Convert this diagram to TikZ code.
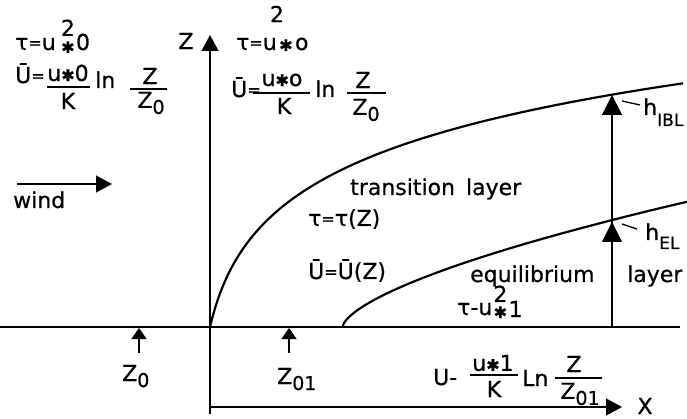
\documentclass[tikz,border=0pt]{standalone}
\usepackage{fontspec}
\setmainfont{DejaVu Sans}[FakeBold=0.6]
\usetikzlibrary{arrows.meta}
\newcommand\lowsub[1]{\raisebox{-6pt}{\fontsize{19}{19}\selectfont #1}}
\newcommand\st{{\fontsize{16}{16}\selectfont ✱}}
\newcommand\eq{\raisebox{1.5pt}{\fontsize{16}{16}\selectfont =}}
\begin{document}
\begin{tikzpicture}[x=1pt,y=-1pt,
  txt/.style={inner sep=0pt, font=\fontsize{22}{24}\selectfont},
  sm/.style={inner sep=0pt, font=\fontsize{17}{19}\selectfont},
  stf/.style={inner sep=0pt, font=\fontsize{16}{16}\selectfont},
  ax/.style={line width=1.3pt},
  crv/.style={line width=2.2pt},
  bar/.style={line width=1.3pt},
  midtip/.style={-{Triangle[length=16pt,width=17pt]}},
  bigtip/.style={-{Triangle[length=20pt,width=20pt]}},
  smalltip/.style={-{Triangle[length=11pt,width=15pt]}}]
\useasboundingbox (0,0) rectangle (687,419);
% axes and ground
\coordinate (Zb) at (210,414);
\coordinate (Zt) at (210,35);
\coordinate (Gl) at (0,327);
\coordinate (Gr) at (680,327);
\coordinate (Xs) at (210,407);
\coordinate (Xe) at (622,407);
\draw[ax] (Gl) -- (Gr);
\draw[ax,midtip] (Zb) -- (Zt);
\draw[ax,midtip] (Xs) -- (Xe);
\node[txt] (zlab) at (186,41) {Z};
\node[txt] (xlab) at (645,406) {X};
% curves
\draw[crv] plot[domain=0:21.75, samples=90] ({210+\x*\x},{327-72.5*ln(1+\x*\x/17)});
\draw[crv] plot[domain=0.05:18.55, samples=80] ({343+\x*\x},{326-2.79*(\x)^1.3});
% vertical height arrows
\coordinate (Hb) at (612,327);
\coordinate (Hibl) at (612,95);
\coordinate (Hel) at (612,222);
\draw[ax,bigtip] (Hb) -- (Hibl);
\draw[ax,bigtip] (Hb) -- (Hel);
\coordinate (L1a) at (622,101);
\coordinate (L1b) at (640,105);
\coordinate (L2a) at (622,224);
\coordinate (L2b) at (637,229);
\draw[ax] (L1a) -- (L1b);
\draw[ax] (L2a) -- (L2b);
\node[txt,anchor=base west] (hibl) at (643,115) {h};
\node[sm,anchor=base west] (hiblsub) at (657,126) {IBL};
\node[txt,anchor=base west] (hel) at (645,240) {h};
\node[sm,anchor=base west] (helsub) at (659,249) {EL};
% wind
\coordinate (Wa) at (17,184);
\coordinate (Wb) at (112,184);
\draw[ax,midtip] (Wa) -- (Wb);
\node[txt,anchor=base west] (wind) at (13,208) {wind};
% roughness arrows
\coordinate (z0t) at (139,353);
\coordinate (z0h) at (139,328);
\coordinate (z1t) at (289,353);
\coordinate (z1h) at (289,328);
\draw[ax,smalltip] (z0t) -- (z0h);
\draw[ax,smalltip] (z1t) -- (z1h);
\node[txt,anchor=base west] (z0lab) at (122,381) {Z\lowsub{0}};
\node[txt,anchor=base west] (z1lab) at (277,384) {Z\lowsub{01}};
% layer labels
\node[txt,anchor=base west] (trans) at (350,195) {transition\hspace{11pt}layer};
\node[txt,anchor=base west] (tauZ) at (308,226) {τ\eq τ(Z)};
\node[txt,anchor=base west] (UZ) at (308,279) {Ū\eq Ū(Z)};
\node[txt,anchor=base west] (equi) at (470,282) {equilibrium};
\node[txt,anchor=base west] (layer) at (627,282) {layer};
\node[txt,anchor=base west] (t3) at (457,315) {τ-u};
\node[stf,anchor=base west] (t3st) at ([xshift=1pt,yshift=-3pt]t3.base east) {✱};
\node[txt,anchor=south] (t3s) at ([yshift=4pt]t3st.north) {2};
\node[txt,anchor=base west] (t3o) at ([xshift=1pt,yshift=-2pt]t3.base east -| t3st.east) {1};
% left block
\node[txt,anchor=base west] (t1) at (15,50) {τ\eq u};
\node[stf,anchor=base west] (t1st) at ([xshift=5pt,yshift=-3pt]t1.base east) {✱};
\node[txt,anchor=south] (t1s) at ([yshift=5pt]t1st.north) {2};
\node[txt,anchor=base west] (t1o) at ([xshift=1pt]t1.base east -| t1st.east) {0};
\node[txt,anchor=base west] (u1) at (15,83) {Ū\eq};
\node[txt] (u1n) at (68,73) {u\st0};
\draw[bar] (47,87) -- (90,87);
\node[txt] (u1d) at (68,101) {K};
\node[txt,anchor=base west] (u1ln) at (95,88) {ln};
\node[txt] (u1zn) at (150,76) {Z};
\draw[bar] (130,89) -- (167,89);
\node[txt] (u1zd) at (151,103) {Z\lowsub{0}};
% middle block
\node[txt,anchor=base west] (t2) at (236,50) {τ\eq u};
\node[stf,anchor=base west] (t2st) at ([xshift=2pt,yshift=-1pt]t2.base east) {✱};
\node[txt] (t2s) at (277,14) {2};
\node[txt,anchor=base west] (t2o) at ([xshift=2pt]t2.base east -| t2st.east) {o};
\node[txt,anchor=base west] (u2) at (231,97) {Ū\eq};
\node[txt] (u2n) at (282,80) {u\st o};
\draw[bar] (253,93) -- (310,93);
\node[txt] (u2d) at (284,106) {K};
\node[txt,anchor=base west] (u2ln) at (315,97) {ln};
\node[txt] (u2zn) at (363,80) {Z};
\draw[bar] (347,93) -- (386,93);
\node[txt] (u2zd) at (366,110) {Z\lowsub{0}};
% bottom formula
\node[txt,anchor=base west] (u3) at (433,385) {U-};
\node[txt] (u3n) at (493,363) {u\st1};
\draw[bar] (470,375) -- (518,375);
\node[txt] (u3d) at (494,389) {K};
\node[txt,anchor=base west] (u3ln) at (522,386) {Ln};
\node[txt] (u3zn) at (574,364) {Z};
\draw[bar] (555,378) -- (602,378);
\node[txt] (u3zd) at (580,394) {Z\lowsub{01}};
\end{tikzpicture}
\end{document}
